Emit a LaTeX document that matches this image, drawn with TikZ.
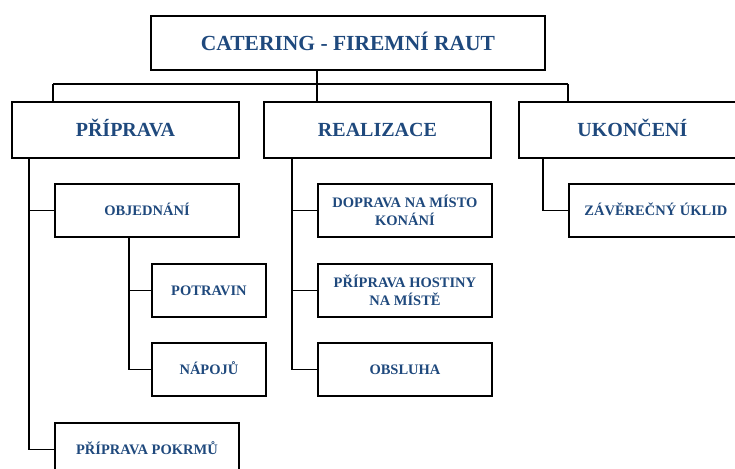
\documentclass[tikz,border=0pt]{standalone}
\usepackage{fontspec}
\setmainfont{Liberation Serif}
\definecolor{labelblue}{HTML}{1F497D}
\tikzset{
  box/.style={draw=black, line width=1.9pt, fill=white, anchor=north west,
    inner sep=0pt, align=center, text=labelblue, font=\bfseries},
  topbox/.style={box, text height=14.2pt, text depth=0pt, minimum width=394pt, minimum height=54pt, font=\fontsize{21.5}{24}\bfseries\selectfont},
  midbox/.style={box, text height=13.2pt, text depth=0pt, minimum width=227pt, minimum height=56pt, font=\fontsize{20}{23}\bfseries\selectfont},
  subbox/.style={box, minimum width=184pt, minimum height=53pt, font=\fontsize{14.5}{18}\bfseries\selectfont},
  oneline/.style={text height=9.6pt, text depth=0pt},
  leafbox/.style={box, oneline, minimum width=114pt, minimum height=53pt, font=\fontsize{14.5}{18}\bfseries\selectfont},
  wire/.style={draw=black, line width=1.9pt},
}
\begin{document}
\begin{tikzpicture}[x=1pt, y=-1pt]
\useasboundingbox (0,0) rectangle (735,468);
\clip (0,0) rectangle (735,468);

% tree lines of the first level
\coordinate (busL) at (53,84);
\coordinate (busR) at (568,84);
\coordinate (busM) at (317,84);
\draw[wire] (busL) -- (busR);
\draw[wire] (317,69) -- (busM);
\draw[wire] (busL) -- (53,101);
\draw[wire] (busM) -- (317,101);
\draw[wire] (busR) -- (568,101);

% level 1
\node[topbox] (root) at (150,15) {CATERING - FIREMNÍ RAUT};

% level 2
\node[midbox] (prep) at (11,101) {PŘÍPRAVA};
\node[midbox] (real) at (263,101) {REALIZACE};
\node[midbox] (end) at (518,101) {UKONČENÍ};

% level 3
\node[subbox, oneline] (order) at (54,183) {OBJEDNÁNÍ};
\node[subbox, oneline] (cook) at (54,422) {PŘÍPRAVA POKRMŮ};
\node[subbox, minimum width=174pt] (trans) at (317,183) {DOPRAVA NA MÍSTO\\KONÁNÍ};
\node[subbox, minimum width=174pt] (feast) at (317,263) {PŘÍPRAVA HOSTINY\\NA MÍSTĚ};
\node[subbox, oneline, minimum width=174pt] (serve) at (317,342) {OBSLUHA};
\node[subbox, oneline, minimum width=174pt] (clean) at (568,183) {ZÁVĚREČNÝ ÚKLID};

% level 4
\node[leafbox] (food) at (151,263) {POTRAVIN};
\node[leafbox] (drink) at (151,342) {NÁPOJŮ};

% trunks and branches
\coordinate (prepT) at (29,157);
\coordinate (orderT) at (129,236);
\coordinate (realT) at (292,157);
\coordinate (endT) at (543,157);
\draw[wire] (prepT) |- (cook.west);
\draw[wire] (order.west) -- (order.west -| prepT);
\draw[wire] (orderT) |- (drink.west);
\draw[wire] (food.west) -- (food.west -| orderT);
\draw[wire] (realT) |- (serve.west);
\draw[wire] (trans.west) -- (trans.west -| realT);
\draw[wire] (feast.west) -- (feast.west -| realT);
\draw[wire] (endT) |- (clean.west);
\end{tikzpicture}
\end{document}
